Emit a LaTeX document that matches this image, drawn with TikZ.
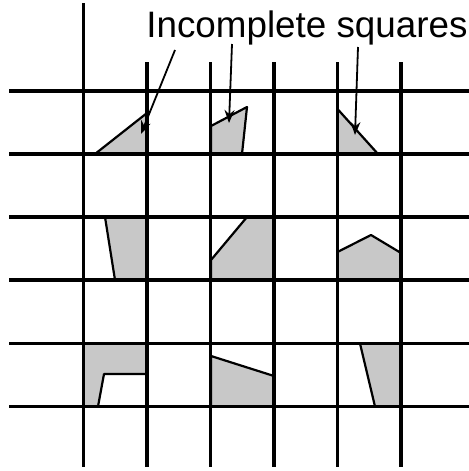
\documentclass[tikz,border=0pt]{standalone}
\usepackage{fontspec}
\setmainfont{Liberation Sans}
\usetikzlibrary{arrows.meta}
\definecolor{piecegray}{RGB}{200,200,200}

\begin{document}
\begin{tikzpicture}[x=0.5pt, y=-0.5pt,
    gridline/.style={line width=1.6pt, black},
    piece/.style={fill=piecegray, draw=black, line width=1.1pt, line join=round},
    arr/.style={-{Stealth[length=6.5pt, width=5pt]}, line width=0.9pt},
    heading/.style={font=\fontsize{18.4}{20}\selectfont, inner sep=0pt},
]
    \useasboundingbox (0,0) rectangle (469,471);

    % incomplete squares, top row
    \draw[piece] (95,154) -- (147,113) -- (147,154) -- cycle;
    \draw[piece] (211,126) -- (247,107) -- (242,154) -- (211,154) -- cycle;
    \draw[piece] (337.5,109) -- (378,154) -- (337.5,154) -- cycle;

    % middle row
    \draw[piece] (105,217) -- (115,280) -- (147,280) -- (147,217) -- cycle;
    \draw[piece] (211,260) -- (247,217) -- (274,217) -- (274,280) -- (211,280) -- cycle;
    \draw[piece] (337.5,252) -- (371,235) -- (401,253) -- (401,280) -- (337.5,280) -- cycle;

    % bottom row
    \draw[piece] (83.5,343.5) -- (147,343.5) -- (147,374) -- (104,374) -- (98,406.5) -- (83.5,406.5) -- cycle;
    \draw[piece] (211,356) -- (274,376) -- (274,406.5) -- (211,406.5) -- cycle;
    \draw[piece] (360,343.5) -- (375,406.5) -- (401,406.5) -- (401,343.5) -- cycle;

    % grid
    \draw[gridline] (83.5,3) -- (83.5,467);
    \draw[gridline] (147,62) -- (147,467);
    \draw[gridline] (210.5,62) -- (210.5,467);
    \draw[gridline] (274,62) -- (274,467);
    \draw[gridline] (337.5,62) -- (337.5,467);
    \draw[gridline] (401,62) -- (401,467);
    \draw[gridline] (9,91) -- (469,91);
    \draw[gridline] (9,154) -- (469,154);
    \draw[gridline] (9,217) -- (469,217);
    \draw[gridline] (9,280) -- (469,280);
    \draw[gridline] (9,343.5) -- (469,343.5);
    \draw[gridline] (9,406.5) -- (469,406.5);

    % caption and pointers
    \node[heading, anchor=base west] (title) at (146,37) {Incomplete squares};
    \coordinate (fromA) at (175,50);
    \coordinate (fromB) at (232,44);
    \coordinate (fromC) at (358,47);
    \coordinate (tipA) at (141,134);
    \coordinate (tipB) at (229,123);
    \coordinate (tipC) at (355,135);
    \draw[arr] (fromA) -- (tipA);
    \draw[arr] (fromB) -- (tipB);
    \draw[arr] (fromC) -- (tipC);
\end{tikzpicture}
\end{document}
